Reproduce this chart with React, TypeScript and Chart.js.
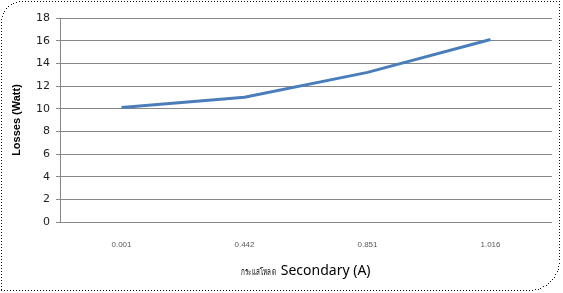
import React, { useEffect, useRef } from "react";
import { Chart, registerables } from "chart.js";

Chart.register(...registerables);

const categories = ["0.001", "0.442", "0.851", "1.016"];
const losses = [10.1, 11.0, 13.2, 16.1];
const yTicks = [0, 2, 4, 6, 8, 10, 12, 14, 16, 18];
const xTitleThai = "กระแสโหลด";
const xTitleEn = "Secondary (A)";

const framePlugin = {
  id: "frame",
  beforeDraw(chart: any) {
    const ctx = chart.ctx;
    const l = 1, t = 1, r = 559, b = 290;
    const rtl = 21, rbr = 30;
    ctx.save();
    ctx.fillStyle = "#ffffff";
    ctx.fillRect(0, 0, chart.width, chart.height);
    ctx.fillStyle = "#111111";
    const dot = (x: number, y: number) => ctx.fillRect(Math.round(x), Math.round(y), 1, 1);
    for (let x = l + rtl; x <= r; x += 3) dot(x, t);
    for (let y = t; y <= b - rbr; y += 3) dot(r, y);
    for (let x = l; x <= r - rbr; x += 3) dot(x, b);
    for (let y = t + rtl; y <= b; y += 3) dot(l, y);
    const arcDots = (cx: number, cy: number, rad: number, a0: number, a1: number) => {
      const len = Math.abs(a1 - a0) * rad;
      const n = Math.max(1, Math.round(len / 3));
      for (let i = 1; i < n; i++) {
        const a = a0 + ((a1 - a0) * i) / n;
        dot(cx + rad * Math.cos(a), cy + rad * Math.sin(a));
      }
    };
    arcDots(l + rtl, t + rtl, rtl, Math.PI, 1.5 * Math.PI);
    arcDots(r - rbr, b - rbr, rbr, 0, 0.5 * Math.PI);
    ctx.restore();
  },
  afterDraw(chart: any) {
    const ctx = chart.ctx;
    const area = chart.chartArea;
    const cx = (area.left + area.right) / 2;
    const y = 271;
    ctx.save();
    ctx.fillStyle = "#000000";
    ctx.textBaseline = "middle";
    ctx.textAlign = "left";
    ctx.font = "9px 'Noto Sans', sans-serif";
    const thaiW = ctx.measureText(xTitleThai).width;
    const sx = Math.max(0.7, Math.min(1, 32 / thaiW));
    const thaiDrawn = thaiW * sx;
    ctx.font = "14px 'Noto Sans', sans-serif";
    const enW = ctx.measureText(xTitleEn).width;
    const gap = 5;
    const total = thaiDrawn + gap + enW;
    const x0 = cx - total / 2;
    ctx.save();
    ctx.translate(x0, y + 1);
    ctx.scale(sx, 1);
    ctx.font = "9px 'Noto Sans', sans-serif";
    ctx.fillText(xTitleThai, 0, 0);
    ctx.restore();
    ctx.font = "14px 'Noto Sans', sans-serif";
    ctx.fillText(xTitleEn, x0 + thaiDrawn + gap, y);
    ctx.restore();
  },
};

export default function App() {
  const ref = useRef<HTMLCanvasElement>(null);
  useEffect(() => {
    if (!ref.current) return;
    const chart = new Chart(ref.current, {
      type: "line",
      data: {
        labels: categories,
        datasets: [
          {
            data: losses,
            borderColor: "#4a7ebb",
            borderWidth: 3,
            pointRadius: 0,
            tension: 0,
            fill: false,
          },
        ],
      },
      options: {
        animation: false,
        responsive: false,
        events: [],
        layout: { padding: { left: 0, right: 11, top: 18, bottom: 0 } },
        plugins: { legend: { display: false }, tooltip: { enabled: false } },
        scales: {
          x: {
            type: "category",
            offset: true,
            grid: { display: false, drawTicks: false },
            border: { display: false },
            ticks: {
              color: "#595959",
              font: { family: "Liberation Sans", size: 8 },
              padding: 18,
              maxRotation: 0,
            },
            title: { display: false },
            afterFit: (s: any) => {
              s.height = 71;
            },
          },
          y: {
            min: 0,
            max: 18,
            afterBuildTicks: (s: any) => {
              s.ticks = yTicks.map((v) => ({ value: v }));
            },
            grid: { color: "#868686", lineWidth: 1, drawTicks: true, tickLength: 4 },
            border: { display: true, color: "#868686", width: 1 },
            ticks: {
              color: "#222222",
              font: { family: "DejaVu Sans", size: 11 },
              padding: 6,
            },
            title: {
              display: true,
              text: "Losses (Watt)",
              color: "#000000",
              font: { family: "Liberation Sans", size: 11, weight: "bold" },
              padding: { top: 10, bottom: 0 },
            },
            afterFit: (s: any) => {
              s.width = 60;
            },
          },
        },
      },
      plugins: [framePlugin],
    });
    return () => chart.destroy();
  }, []);
  return (
    <div style={{ position: "fixed", left: 0, top: 0, width: 563, height: 293 }}>
      <canvas ref={ref} width={563} height={293} style={{ width: 563, height: 293 }} />
    </div>
  );
}
